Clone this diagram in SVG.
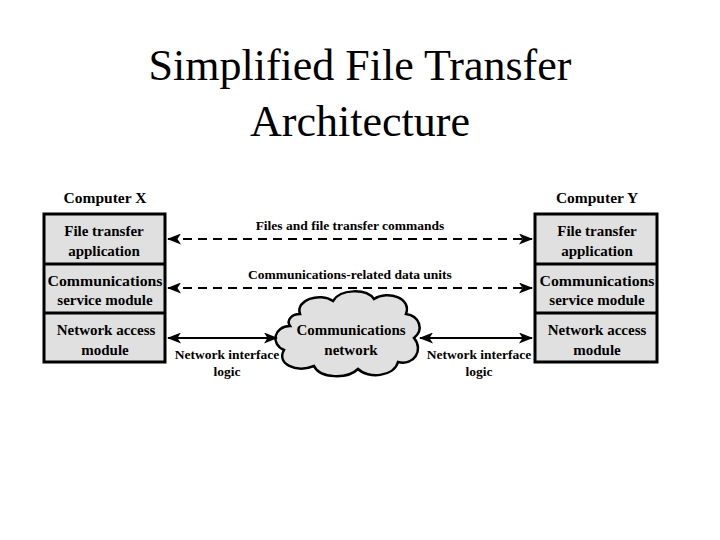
<svg xmlns="http://www.w3.org/2000/svg" width="720" height="540" viewBox="0 0 720 540">
<style>
.title{font-family:"Liberation Serif","Times New Roman",serif;font-size:44px;fill:#000;text-anchor:middle}
.lbl{font-family:"Liberation Serif","Times New Roman",serif;font-weight:bold;font-size:15px;fill:#000;text-anchor:middle}
.hd{font-family:"Liberation Serif","Times New Roman",serif;font-weight:bold;font-size:15.5px;fill:#000;text-anchor:middle}
.sm{font-family:"Liberation Serif","Times New Roman",serif;font-weight:bold;font-size:13.5px;fill:#000;text-anchor:middle}
.box{fill:#e0e0e0;stroke:#000;stroke-width:3}
.div{stroke:#000;stroke-width:3}
.dash{stroke:#000;stroke-width:2;stroke-dasharray:9,6;fill:none}
.solid{stroke:#000;stroke-width:2;fill:none}
</style>
<defs>
<marker id="ah" viewBox="0 0 14 11" refX="13" refY="5.5" markerWidth="14" markerHeight="11" markerUnits="userSpaceOnUse" orient="auto-start-reverse">
<path d="M0,0 L14,5.5 L0,11 L3.5,5.5 z" fill="#000"/>
</marker>
</defs>
<rect width="720" height="540" fill="#fff"/>
<text class="title" x="360" y="80">Simplified File Transfer</text>
<text class="title" x="360" y="136">Architecture</text>

<g id="computerX">
<text class="hd" x="105" y="203">Computer X</text>
<rect class="box" x="44" y="214" width="121" height="148"/>
<line class="div" x1="44" y1="264" x2="165" y2="264"/>
<line class="div" x1="44" y1="313" x2="165" y2="313"/>
<text class="lbl" x="104" y="236">File transfer</text>
<text class="lbl" x="104" y="256">application</text>
<text class="lbl" x="105" y="286" textLength="115" lengthAdjust="spacingAndGlyphs">Communications</text>
<text class="lbl" x="105" y="305">service module</text>
<text class="lbl" x="106" y="335">Network access</text>
<text class="lbl" x="105" y="355">module</text>
</g>

<g id="computerY">
<text class="hd" x="597" y="203">Computer Y</text>
<rect class="box" x="535" y="214" width="122" height="148"/>
<line class="div" x1="535" y1="264" x2="657" y2="264"/>
<line class="div" x1="535" y1="313" x2="657" y2="313"/>
<text class="lbl" x="597" y="236">File transfer</text>
<text class="lbl" x="597" y="256">application</text>
<text class="lbl" x="597" y="286" textLength="115" lengthAdjust="spacingAndGlyphs">Communications</text>
<text class="lbl" x="597" y="305">service module</text>
<text class="lbl" x="597" y="335">Network access</text>
<text class="lbl" x="597" y="355">module</text>
</g>

<g id="network">
<path d="M300,314 C295,300 320,292 333,301 C340,289 366,288 374,299 C388,290 412,298 406,314 C420,316 424,330 414,338 C424,350 414,366 398,362 C394,377 368,379 358,369 C348,379 320,379 314,366 C296,373 276,364 284,350 C270,344 274,326 290,326 C286,320 292,314 300,314 Z" fill="#e0e0e0" stroke="#000" stroke-width="2.5"/>
<text class="lbl" x="351" y="335">Communications</text>
<text class="lbl" x="351" y="355">network</text>
</g>

<g id="connectors">
<line class="dash" x1="168" y1="239" x2="532" y2="239" marker-start="url(#ah)" marker-end="url(#ah)"/>
<line class="dash" x1="168" y1="288" x2="532" y2="288" marker-start="url(#ah)" marker-end="url(#ah)"/>
<line class="solid" x1="168" y1="338" x2="277" y2="338" marker-start="url(#ah)" marker-end="url(#ah)"/>
<line class="solid" x1="420" y1="338" x2="532" y2="338" marker-start="url(#ah)" marker-end="url(#ah)"/>
<text class="sm" x="350" y="230">Files and file transfer commands</text>
<text class="sm" x="350" y="279">Communications-related data units</text>
<text class="sm" x="227" y="359">Network interface</text>
<text class="sm" x="227" y="376">logic</text>
<text class="sm" x="479" y="359">Network interface</text>
<text class="sm" x="479" y="376">logic</text>
</g>
</svg>
